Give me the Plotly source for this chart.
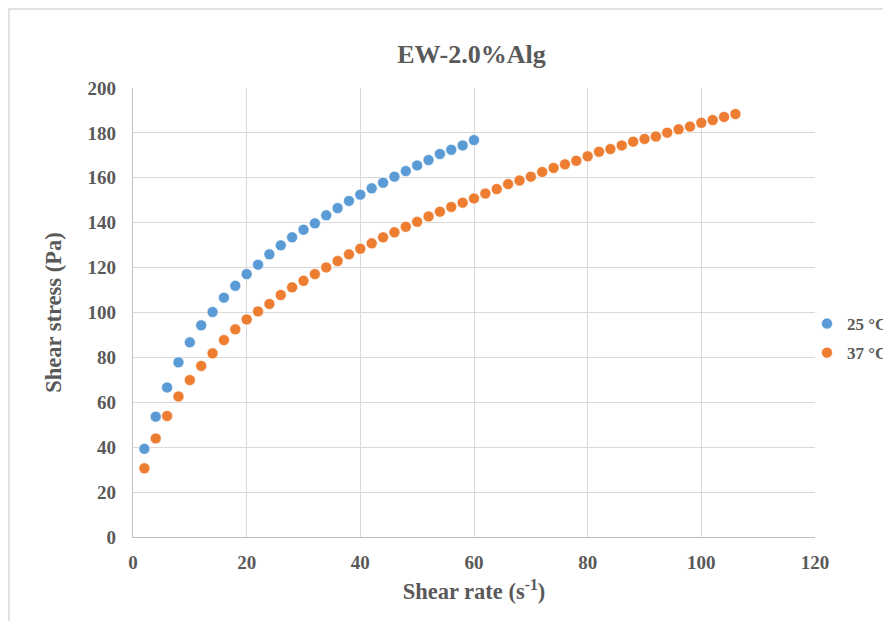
import plotly.graph_objects as go

# Shear rate (s^-1)
rate_25 = [2, 4, 6, 8, 10, 12, 14, 16, 18, 20, 22, 24, 26, 28, 30, 32, 34, 36, 38, 40,
           42, 44, 46, 48, 50, 52, 54, 56, 58, 60]
stress_25 = [39.3, 53.6, 66.6, 77.8, 86.7, 94.3, 100.2, 106.6, 111.9, 117.1,
             121.3, 125.9, 129.9, 133.5, 136.9, 139.7, 143.3, 146.5, 149.7, 152.5,
             155.3, 157.8, 160.5, 163.0, 165.5, 167.9, 170.6, 172.5, 174.4, 176.8]

rate_37 = [2, 4, 6, 8, 10, 12, 14, 16, 18, 20, 22, 24, 26, 28, 30, 32, 34, 36, 38, 40,
           42, 44, 46, 48, 50, 52, 54, 56, 58, 60, 62, 64, 66, 68, 70, 72, 74, 76, 78, 80,
           82, 84, 86, 88, 90, 92, 94, 96, 98, 100, 102, 104, 106]
stress_37 = [30.6, 43.9, 53.9, 62.6, 69.9, 76.2, 81.8, 87.7, 92.5, 96.9,
             100.5, 103.8, 107.8, 111.2, 114.1, 117.1, 120.1, 122.9, 125.9, 128.4,
             130.8, 133.5, 135.7, 138.2, 140.4, 142.8, 144.9, 147.0, 148.9, 150.8,
             153.0, 155.0, 157.2, 158.8, 160.5, 162.6, 164.4, 166.0, 167.6, 169.6,
             171.6, 172.8, 174.4, 176.1, 177.3, 178.4, 180.1, 181.6, 182.8, 184.5,
             185.7, 187.1, 188.4]

series_names = ["25 °C", "37 °C"]
title_text = "EW-2.0%Alg"
x_title = "Shear rate (s<sup>-1</sup>)"
y_title = "Shear stress (Pa)"

FONT = "Liberation Serif"
TXT = "#595959"

W, H = 910, 621
ML, MT, PW, PH = 125, 80, 682, 449

fig = go.Figure()
fig.add_trace(go.Scatter(
    x=rate_25, y=stress_25, mode="markers", name=series_names[0], legendgroup="a",
    marker=dict(color="#5B9BD5", size=11, line=dict(color="white", width=0.6)),
))
fig.add_trace(go.Scatter(
    x=rate_37, y=stress_37, mode="markers", name=series_names[1], legendgroup="b",
    marker=dict(color="#ED7D31", size=11, line=dict(color="white", width=0.6)),
))

fig.update_layout(
    width=W, height=H,
    margin=dict(l=ML, r=W - ML - PW, t=MT, b=H - MT - PH),
    paper_bgcolor="white", plot_bgcolor="white",
    font=dict(family=FONT, color=TXT),
    title=dict(text="<b>" + title_text + "</b>", x=463.5 / W, xref="container",
               y=1 - 46 / H, yref="container", xanchor="center", yanchor="middle",
               font=dict(family=FONT, size=26, color=TXT)),
    showlegend=True,
    legend=dict(x=(799 - ML) / PW, xanchor="left", y=0.5 - (330.5 - MT - PH / 2) / PH,
                yanchor="middle",
                font=dict(family=FONT, size=17, color=TXT, weight="bold"),
                itemwidth=30, traceorder="grouped", tracegroupgap=4,
                bgcolor="rgba(0,0,0,0)"),
    xaxis=dict(
        range=[0, 120], dtick=20, tick0=0,
        showgrid=True, gridcolor="#D9D9D9", gridwidth=1.3,
        showline=True, linecolor="#BFBFBF", linewidth=1.3,
        zeroline=False, ticks="",
        ticklabelstandoff=8,
        tickfont=dict(family=FONT, size=19, color=TXT, weight="bold"),
        title=dict(text=x_title, standoff=11,
                   font=dict(family=FONT, size=22.5, color=TXT, weight="bold")),
    ),
    yaxis=dict(
        range=[0, 200], dtick=20, tick0=0,
        showgrid=True, gridcolor="#D9D9D9", gridwidth=1.3,
        showline=True, linecolor="#BFBFBF", linewidth=1.3,
        zeroline=False, ticks="",
        ticklabelstandoff=12,
        tickfont=dict(family=FONT, size=19, color=TXT, weight="bold"),
        title=dict(text=y_title, standoff=19,
                   font=dict(family=FONT, size=22.5, color=TXT, weight="bold")),
    ),
)

# outer chart border (only left and top edges fall inside the picture)
fig.add_shape(type="rect", xref="paper", yref="paper",
              x0=(1 - ML) / PW, x1=2.0, y0=-1.0, y1=1 + (MT - 1) / PH,
              line=dict(color="#D9D9D9", width=1.5), layer="below")

fig.write_html("out.html")
